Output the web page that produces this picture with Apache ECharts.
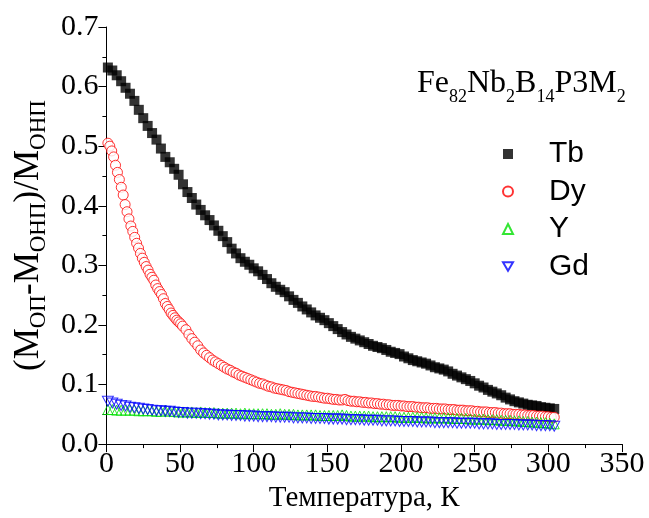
<!DOCTYPE html>
<html>
<head>
<meta charset="utf-8">
<script src="https://cdn.jsdelivr.net/npm/echarts@6/dist/echarts.min.js"></script>
<style>html,body{margin:0;padding:0;background:#fff}#c{width:649px;height:518px}</style>
</head>
<body>
<div id="c"></div>
<script>
// Shared temperature grid for Tb, Y, Gd (K)
var tempsMain = [1,4,7,10,13,16,19,22,25,28,31,34,37,40,43,46,49,52,55,58,61,64,67,70,73,76,79,82,85,88,91,94,97,100,103,106,109,112,115,118,121,124,127,130,133,136,139,142,145,148,151,154,157,160,163,166,169,172,175,178,181,184,187,190,193,196,199,202,205,208,211,214,217,220,223,226,229,232,235,238,241,244,247,250,253,256,259,262,265,268,271,274,277,280,283,286,289,292,295,298,301,304];

var tbValues = [0.632,0.627,0.619,0.609,0.598,0.588,0.576,0.561,0.547,0.534,0.522,0.511,0.496,0.482,0.473,0.462,0.452,0.436,0.423,0.413,0.402,0.393,0.384,0.376,0.367,0.358,0.349,0.339,0.328,0.320,0.312,0.306,0.301,0.295,0.290,0.284,0.277,0.270,0.264,0.259,0.255,0.248,0.242,0.237,0.231,0.226,0.221,0.216,0.212,0.208,0.203,0.198,0.193,0.188,0.184,0.180,0.177,0.174,0.171,0.168,0.165,0.163,0.161,0.158,0.155,0.153,0.151,0.147,0.144,0.141,0.139,0.137,0.135,0.132,0.129,0.127,0.125,0.122,0.118,0.115,0.112,0.109,0.106,0.102,0.098,0.095,0.091,0.088,0.085,0.082,0.078,0.075,0.072,0.070,0.068,0.066,0.065,0.064,0.062,0.061,0.060,0.059];

var yValues = [0.058,0.058,0.057,0.057,0.057,0.057,0.057,0.056,0.056,0.056,0.056,0.055,0.055,0.057,0.055,0.055,0.054,0.054,0.054,0.054,0.053,0.054,0.053,0.053,0.053,0.052,0.052,0.052,0.052,0.052,0.051,0.052,0.051,0.051,0.051,0.051,0.051,0.050,0.050,0.051,0.050,0.050,0.050,0.049,0.049,0.049,0.049,0.049,0.048,0.048,0.048,0.048,0.048,0.049,0.048,0.047,0.047,0.047,0.047,0.047,0.046,0.046,0.046,0.046,0.046,0.046,0.045,0.045,0.045,0.045,0.045,0.045,0.044,0.044,0.044,0.044,0.044,0.044,0.043,0.043,0.043,0.043,0.042,0.042,0.042,0.042,0.041,0.041,0.041,0.040,0.040,0.040,0.039,0.039,0.038,0.038,0.037,0.037,0.036,0.036,0.035,0.034];

var gdValues = [0.072,0.069,0.067,0.065,0.064,0.062,0.061,0.060,0.059,0.058,0.057,0.056,0.056,0.055,0.055,0.054,0.053,0.053,0.052,0.052,0.052,0.051,0.051,0.050,0.050,0.049,0.049,0.049,0.048,0.048,0.048,0.047,0.047,0.047,0.046,0.046,0.046,0.046,0.045,0.045,0.045,0.045,0.044,0.044,0.044,0.044,0.043,0.043,0.043,0.043,0.042,0.042,0.042,0.042,0.041,0.041,0.041,0.041,0.040,0.040,0.040,0.040,0.039,0.039,0.039,0.039,0.038,0.038,0.038,0.038,0.037,0.037,0.037,0.037,0.036,0.036,0.036,0.036,0.036,0.035,0.035,0.035,0.035,0.035,0.034,0.034,0.034,0.034,0.033,0.033,0.033,0.033,0.033,0.032,0.032,0.032,0.032,0.031,0.031,0.031,0.031,0.030];

// Dy has its own temperature grid (denser at low T)
var dyTemps = [1.0,2.3,3.6,4.9,6.2,7.5,8.8,10.1,11.4,12.7,14.0,15.3,16.6,17.9,19.2,20.5,21.8,23.1,24.4,25.7,27.0,28.3,29.6,30.9,32.2,33.5,34.8,36.1,37.4,38.7,40.0,41.3,42.6,43.9,45.2,46.5,47.8,49.1,50.4,51.7,54,56,58,60,62,64,66,68,70,72,74,76,78,80,82,84,86,88,90,92,94,96,98,100,102,104,106,108,110,112,114,116,118,120,122,124,126,128,130,132,134,136,138,140,142,144,146,148,150,152,154,156,158,160,162,164,166,168,170,172,174,176,178,180,182,184,186,188,190,192,194,196,198,200,202,204,206,208,210,212,214,216,218,220,222,224,226,228,230,232,234,236,238,240,242,244,246,248,250,252,254,256,258,260,262,264,266,268,270,272,274,276,278,280,282,284,286,288,290,292,294,296,298,300,302,304];
var dyValues = [0.505,0.500,0.492,0.482,0.468,0.456,0.444,0.431,0.418,0.402,0.390,0.378,0.366,0.357,0.347,0.337,0.329,0.320,0.312,0.305,0.298,0.292,0.285,0.280,0.275,0.267,0.261,0.256,0.251,0.244,0.236,0.231,0.226,0.220,0.216,0.212,0.208,0.205,0.202,0.198,0.192,0.184,0.177,0.171,0.165,0.158,0.153,0.149,0.145,0.141,0.138,0.135,0.132,0.129,0.126,0.124,0.121,0.119,0.116,0.114,0.112,0.110,0.108,0.106,0.104,0.102,0.101,0.099,0.097,0.096,0.094,0.093,0.092,0.091,0.090,0.088,0.087,0.086,0.085,0.084,0.083,0.082,0.081,0.080,0.080,0.079,0.078,0.077,0.077,0.076,0.075,0.075,0.074,0.074,0.075,0.073,0.072,0.072,0.071,0.071,0.070,0.070,0.069,0.069,0.068,0.068,0.067,0.067,0.066,0.066,0.065,0.065,0.065,0.064,0.064,0.063,0.063,0.063,0.062,0.062,0.061,0.061,0.061,0.060,0.060,0.060,0.059,0.059,0.059,0.058,0.058,0.058,0.057,0.057,0.057,0.056,0.056,0.056,0.055,0.055,0.054,0.054,0.054,0.053,0.053,0.053,0.052,0.052,0.051,0.051,0.051,0.050,0.050,0.050,0.049,0.049,0.048,0.048,0.048,0.047,0.047,0.047,0.046,0.046,0.045,0.045];

var seriesNames = ['Tb','Dy','Y','Gd'];
var xTicks = {min:0, max:350, interval:50};
var yTicks = {min:0, max:0.7, interval:0.1};

function pairs(xs, ys){ var out=[]; for(var i=0;i<ys.length;i++){ out.push([xs[i], ys[i]]); } return out; }

var SERIF = '"Liberation Serif","Times New Roman",serif';
var SANS = '"Liberation Sans",Arial,sans-serif';

var chart = echarts.init(document.getElementById('c'), null, {renderer:'canvas'});
chart.setOption({
  animation:false,
  backgroundColor:'#fff',
  title:{
    left:417, top:62, padding:0,
    text:'{m|Fe}{s|82}{m|Nb}{s|2}{m|B}{s|14}{m|P3M}{s|2}',
    textStyle:{
      fontWeight:'normal',
      rich:{
        m:{fontFamily:SERIF, fontWeight:'normal', fontSize:32, lineHeight:44, color:'#000'},
        s:{fontFamily:SERIF, fontWeight:'normal', fontSize:18, lineHeight:14, verticalAlign:'bottom', color:'#000'}
      }
    }
  },
  legend:{
    orient:'vertical', left:497, top:134, itemWidth:10, itemHeight:10, itemGap:7.5,
    data:seriesNames,
    textStyle:{fontFamily:SANS, fontSize:30, lineHeight:30, color:'#000', padding:[0,0,0,31]}
  },
  grid:{left:106, right:27, top:27, bottom:71},
  xAxis:{
    type:'value', min:xTicks.min, max:xTicks.max, interval:xTicks.interval,
    name:'Температура, К', nameLocation:'middle', nameGap:28,
    nameTextStyle:{fontFamily:SERIF, fontSize:29, color:'#000'},
    axisLine:{show:true, onZero:false, lineStyle:{color:'#000', width:1}},
    axisTick:{show:true, inside:false, length:8, lineStyle:{color:'#000'}},
    minorTick:{show:true, splitNumber:2, length:4, lineStyle:{color:'#000'}},
    axisLabel:{fontFamily:SERIF, fontSize:30, color:'#000', margin:5},
    splitLine:{show:false}
  },
  yAxis:{
    type:'value', min:yTicks.min, max:yTicks.max, interval:yTicks.interval,
    name:'(M{s|ОП}-M{s|ОНП})/M{s|ОНП}', nameLocation:'middle', nameRotate:90, nameGap:56,
    nameTextStyle:{fontFamily:SERIF, fontSize:35, lineHeight:42, color:'#000',
      rich:{s:{fontFamily:SERIF, fontSize:23, lineHeight:16, verticalAlign:'bottom', color:'#000'}}},
    axisLine:{show:true, onZero:false, lineStyle:{color:'#000', width:1}},
    axisTick:{show:true, inside:false, length:8, lineStyle:{color:'#000'}},
    minorTick:{show:true, splitNumber:2, length:4, lineStyle:{color:'#000'}},
    axisLabel:{fontFamily:SERIF, fontSize:30, color:'#000', margin:8,
      formatter:function(v){return v.toFixed(1);}},
    splitLine:{show:false}
  },
  series:[
    {name:'Tb', type:'scatter', data:pairs(tempsMain, tbValues), symbol:'rect', symbolSize:10,
      itemStyle:{color:'#000'}},
    {name:'Dy', type:'scatter', data:pairs(dyTemps, dyValues), symbol:'circle', symbolSize:10,
      itemStyle:{color:'#fff', borderColor:'#ff0000', borderWidth:1}},
    {name:'Y', type:'scatter', data:pairs(tempsMain, yValues), symbol:'triangle', symbolSize:10,
      itemStyle:{color:'rgba(0,0,0,0)', borderColor:'#00e000', borderWidth:1}},
    {name:'Gd', type:'scatter', data:pairs(tempsMain, gdValues), symbol:'path://M0,0 L10,0 L5,8.66 Z', symbolSize:[11,10],
      itemStyle:{color:'rgba(0,0,0,0)', borderColor:'#0000ff', borderWidth:1}}
  ]
});
</script>
</body>
</html>
